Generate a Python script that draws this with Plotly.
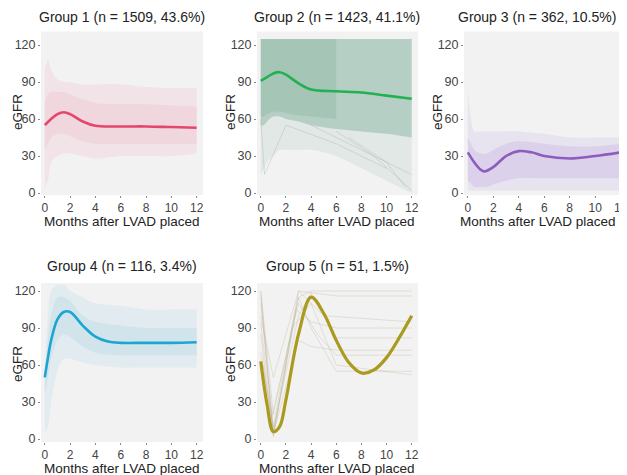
import plotly.graph_objects as go

# ---------------- data ----------------
titles = ["Group 1 (n = 1509, 43.6%)", "Group 2 (n = 1423, 41.1%)",
          "Group 3 (n = 362, 10.5%)", "Group 4 (n = 116, 3.4%)",
          "Group 5 (n = 51, 1.5%)"]
x_title = "Months after LVAD placed"
y_title = "eGFR"
x_ticks = [0, 2, 4, 6, 8, 10, 12]
y_ticks = [0, 30, 60, 90, 120]

# mean trajectories
g1_mx = [0, 0.5, 1, 1.5, 2, 3, 4, 6, 8, 10, 12]
g1_my = [55, 60, 64, 65.5, 64, 58, 54.5, 54, 54, 53.5, 53]
g2_mx = [0, 0.5, 1, 1.5, 2, 3, 4, 6, 8, 10, 12]
g2_my = [91, 94, 97, 98, 96, 89, 84, 82.5, 81.5, 79, 76.5]
g3_mx = [0, 0.5, 1, 1.3, 2, 3, 4, 5, 6, 8, 10, 12]
g3_my = [33, 25, 19, 17.5, 21, 30, 34, 33, 30, 28, 30, 33]
g4_mx = [0, 0.25, 0.5, 1, 1.5, 2, 3, 4, 5, 6, 8, 10, 12]
g4_my = [50, 66, 80, 97, 103, 103, 92, 83, 79, 78, 78, 78, 78.5]
g5_mx = [0, 0.5, 1, 1.5, 2, 3, 4, 5, 6, 7, 8, 9, 10, 11, 12]
g5_my = [63, 28, 6, 10, 32, 85, 115, 102, 80, 62, 53.5, 56, 66, 82, 100]

# envelopes of the individual trajectories (outer = faint, inner = dense)
env_x = [0, 0.25, 0.5, 1, 1.5, 2, 3, 4, 6, 8, 10, 12]
g1_out_hi = [100, 108, 100, 92, 90, 90, 88, 88, 88, 86, 85, 85]
g1_out_lo = [5, 10, 25, 30, 32, 32, 30, 28, 30, 30, 30, 32]
g1_in_hi = [75, 80, 82, 82, 82, 80, 76, 73, 72, 72, 71, 70]
g1_in_lo = [35, 40, 45, 48, 48, 46, 42, 40, 40, 40, 40, 40]

g2_out_hi = [125] * 12
g2_out_lo = [15, 20, 25, 30, 35, 35, 35, 35, 30, 20, 10, 0]
g2_in_hi = [125] * 12
g2_in_lo = [55, 55, 58, 62, 62, 60, 58, 55, 52, 50, 48, 45]
g2_dense_x = [0, 0.25, 0.5, 1, 1.5, 2, 3, 4, 6]
g2_dense_hi = [125] * 9
g2_dense_lo = [62, 62, 64, 66, 66, 65, 63, 62, 60]

g3_out_hi = [85, 60, 50, 50, 50, 50, 50, 50, 48, 45, 45, 45]
g3_out_lo = [2] * 12
g3_in_hi = [45, 40, 35, 32, 32, 35, 40, 42, 40, 38, 38, 40]
g3_in_lo = [10, 8, 5, 5, 5, 7, 10, 12, 12, 12, 12, 12]

g4_out_hi = [60, 100, 120, 125, 125, 120, 115, 110, 108, 105, 105, 105]
g4_out_lo = [5, 10, 30, 55, 65, 65, 62, 60, 58, 58, 58, 58]
g4_in_hi = [55, 80, 100, 115, 115, 112, 100, 95, 92, 90, 90, 90]
g4_in_lo = [35, 50, 65, 80, 85, 83, 75, 70, 68, 68, 68, 68]

# a few readable individual trajectories
g2_ind_x = [[4, 8, 12], [6, 9, 12], [7, 10, 11.5], [2, 6, 10], [0, 0.3, 2]]
g2_ind_y = [[55, 35, 15], [50, 30, 2], [45, 25, 5], [55, 40, 20], [60, 15, 55]]

g5_ind_x = [[0, 1, 3, 4, 6, 12], [0, 1, 3, 4, 6, 12], [0, 1, 2.5, 4, 6, 12],
            [0, 1, 3, 5, 12], [0, 1, 3, 4, 6, 12], [0.2, 1, 3, 4, 6, 12],
            [0, 1, 3, 5, 6, 12], [0, 1, 2.8, 4, 6, 12], [0, 0.8, 3, 4.5, 6, 12]]
g5_ind_y = [[120, 5, 115, 120, 120, 120], [110, 8, 100, 118, 82, 82],
            [95, 3, 90, 110, 60, 52], [70, 10, 120, 100, 95],
            [120, 20, 115, 90, 55, 55], [60, 5, 80, 75, 72, 72],
            [100, 50, 120, 117, 116, 116], [115, 2, 105, 95, 90, 90],
            [85, 15, 110, 85, 68, 68]]

# ---------------- figure ----------------
# the page body adds an 8px margin; size the figure to fit the window
OFF = 8
W, H = 627 - OFF, 475 - OFF


def px_x(px):
    return (px - OFF) / W


def px_y(py):
    return 1 - (py - OFF) / H


fig = go.Figure()

panels = [
    dict(mx=g1_mx, my=g1_my, mean="#E4476B",
         bands=[(env_x, g1_out_hi, g1_out_lo, "rgba(240,185,198,0.25)"),
                (env_x, g1_in_hi, g1_in_lo, "rgba(240,185,198,0.30)")]),
    dict(mx=g2_mx, my=g2_my, mean="#22B152",
         bands=[(env_x, g2_out_hi, g2_out_lo, "rgba(170,198,185,0.22)"),
                (env_x, g2_in_hi, g2_in_lo, "rgba(145,185,167,0.55)"),
                (g2_dense_x, g2_dense_hi, g2_dense_lo, "rgba(135,178,158,0.35)")]),
    dict(mx=g3_mx, my=g3_my, mean="#8D5CBE",
         bands=[(env_x, g3_out_hi, g3_out_lo, "rgba(205,188,230,0.25)"),
                (env_x, g3_in_hi, g3_in_lo, "rgba(195,175,228,0.35)")]),
    dict(mx=g4_mx, my=g4_my, mean="#1BA6D2",
         bands=[(env_x, g4_out_hi, g4_out_lo, "rgba(185,220,233,0.28)"),
                (env_x, g4_in_hi, g4_in_lo, "rgba(170,212,230,0.30)")]),
    dict(mx=g5_mx, my=g5_my, mean="#AA9A1E", bands=[]),
]

xpx = [[41, 203], [257, 418], [464, 627]]
xdom = [[px_x(a), min(px_x(b), 1.0)] for a, b in xpx]
ydom = [[px_y(195), px_y(31.5)], [px_y(442), px_y(283)]]
yr = [[-1.6, 131], [-2.4, 126.5]]
pos = [(0, 0), (0, 1), (0, 2), (1, 0), (1, 1)]
xtitle_py = [221, 468]
title_py = [17, 266]
ytitle_py = [112, 364]

for i, p in enumerate(panels):
    r, c = pos[i]
    xa = "x" if i == 0 else f"x{i+1}"
    ya = "y" if i == 0 else f"y{i+1}"
    for bx, hi, lo, col in p["bands"]:
        fig.add_trace(go.Scatter(x=bx, y=lo, mode="lines", line=dict(width=0),
                                 line_shape="spline", hoverinfo="skip",
                                 showlegend=False, xaxis=xa, yaxis=ya))
        fig.add_trace(go.Scatter(x=bx, y=hi, mode="lines", line=dict(width=0),
                                 line_shape="spline", fill="tonexty", fillcolor=col,
                                 hoverinfo="skip", showlegend=False, xaxis=xa, yaxis=ya))
    if i == 1:
        for lx, ly in zip(g2_ind_x, g2_ind_y):
            fig.add_trace(go.Scatter(x=lx, y=ly, mode="lines",
                                     line=dict(color="rgba(140,160,150,0.35)", width=0.8),
                                     showlegend=False, xaxis=xa, yaxis=ya))
    if i == 4:
        for lx, ly in zip(g5_ind_x, g5_ind_y):
            fig.add_trace(go.Scatter(x=lx, y=ly, mode="lines",
                                     line=dict(color="rgba(185,175,145,0.35)", width=0.9),
                                     showlegend=False, xaxis=xa, yaxis=ya))
    fig.add_trace(go.Scatter(x=p["mx"], y=p["my"], mode="lines", line_shape="spline",
                             line=dict(color=p["mean"], width=3.2 if i == 4 else 2.6),
                             showlegend=False, xaxis=xa, yaxis=ya))

    axx = dict(domain=xdom[c], range=[-0.3, 12.5], tickvals=x_ticks,
               showgrid=False, zeroline=False, showline=False, automargin=False,
               ticks="outside", ticklen=2, tickcolor="#888",
               ticklabeloverflow="allow",
               tickfont=dict(size=12, color="#444"), anchor=ya)
    axy = dict(domain=ydom[r], range=yr[r], tickvals=y_ticks,
               showgrid=False, zeroline=False, showline=False, automargin=False,
               ticks="outside", ticklen=2, tickcolor="#888",
               tickfont=dict(size=12.5, color="#444"), anchor=xa)
    kx = "xaxis" if i == 0 else f"xaxis{i+1}"
    ky = "yaxis" if i == 0 else f"yaxis{i+1}"
    fig.layout[kx] = axx
    fig.layout[ky] = axy
    xc = (xdom[c][0] + xdom[c][1]) / 2
    if c == 2:
        tx, anc = px_x(618), "right"
    else:
        tx, anc = xc, "center"
    fig.add_annotation(text=titles[i], x=tx, y=px_y(title_py[r]),
                       xref="paper", yref="paper", showarrow=False,
                       font=dict(size=14, color="#222"),
                       xanchor=anc, yanchor="middle")
    fig.add_annotation(text=x_title, x=tx, y=px_y(xtitle_py[r]),
                       xref="paper", yref="paper", showarrow=False,
                       font=dict(size=13.5, color="#222"),
                       xanchor=anc, yanchor="middle")
    fig.add_annotation(text=y_title, x=px_x(max(xpx[c][0] - 27, 17)), y=px_y(ytitle_py[r]),
                       xref="paper", yref="paper", showarrow=False, textangle=-90,
                       font=dict(size=13.5, color="#222"),
                       xanchor="center", yanchor="middle")

# panel backgrounds
for i in range(5):
    r, c = pos[i]
    fig.add_shape(type="rect", xref="paper", yref="paper", layer="below",
                  x0=xdom[c][0], x1=xdom[c][1], y0=ydom[r][0], y1=ydom[r][1],
                  fillcolor="#F2F2F2", line=dict(width=0))

fig.update_layout(width=W, height=H, margin=dict(l=0, r=0, t=0, b=0),
                  paper_bgcolor="white", plot_bgcolor="rgba(0,0,0,0)",
                  font=dict(family="Liberation Sans, Arial, sans-serif"))

fig.write_html("out.html")
